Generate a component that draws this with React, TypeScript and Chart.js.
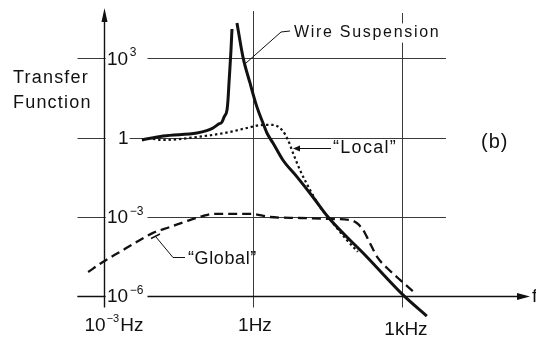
import React, { useEffect, useRef } from "react";
import { Chart, registerables } from "chart.js";

Chart.register(...registerables);

// ---- scale extents (Hz, transfer magnitude) ----
const X_MIN = 3.0e-4;
const X_MAX = 3.78e5;
const Y_MIN = 1.23e-7;
const Y_MAX = 1.05e5;

// ---- Wire suspension (solid), split at the resonance peak ----
const wireLowFreq = [0.0058, 0.0155, 0.0746, 0.117, 0.157, 0.2, 0.238, 0.264, 0.3, 0.314, 0.329, 0.361, 0.378];
const wireLowGain = [0.81, 1.15, 1.49, 1.82, 2.31, 3.19, 3.9, 6.2, 11.1, 26.5, 117, 2090, 12900];
const wireHighFreq = [0.476, 0.629, 0.871, 1.2, 1.59, 1.91, 2.53, 4.0, 7.7, 16.1, 32.4, 197, 1047, 3160];
const wireHighGain = [21900, 1120, 117, 14.5, 3.55, 1.49, 0.624, 0.141, 0.0324, 5.6e-3, 9.8e-4, 3.0e-5, 1.1e-6, 1.74e-7];

// ---- "Local" (dotted) ----
const localFreq = [0.0097, 0.0155, 0.0746, 0.344, 0.758, 1.59, 2.53, 3.84, 5.07, 6.38, 8.83, 14.1, 22.4, 32.4, 77.6, 129];
const localGain = [0.885, 0.81, 1.05, 1.63, 2.31, 3.0, 3.0, 1.94, 0.81, 0.263, 0.0593, 0.0104, 2.34e-3, 9.8e-4, 1.32e-4, 4.7e-5];

// ---- "Global" (dashed) ----
const globalFreq = [4.8e-4, 9.5e-4, 2.1e-3, 4.6e-3, 9.7e-3, 0.0214, 0.047, 0.098, 0.157, 0.476, 0.871, 2.2, 8.8, 35.5, 89, 123, 164, 226, 316, 501, 912, 1820];
const globalGain = [8.1e-6, 1.95e-5, 4.7e-5, 1.12e-4, 2.45e-4, 4.1e-4, 6.9e-4, 1.07e-3, 1.29e-3, 1.29e-3, 1.29e-3, 9.8e-4, 9.0e-4, 8.3e-4, 7.6e-4, 5.8e-4, 3.2e-4, 1.02e-4, 3.0e-5, 1.15e-5, 4.1e-6, 1.29e-6];

// ---- grid / ticks ----
const AXIS_X = 1e-3;
const AXIS_Y = 1e-6;
const yGridValues = [1e3, 1, 1e-3, 1e-6];
const yTickBase = ["10", "1", "10", "10"];
const yTickSup = ["3", "", "\u22123", "\u22126"];
const xGridValues = [1, 1e3];
const xTickValues = [1e-3, 1, 1e3];
const xTickBase = ["10", "1Hz", "1kHz"];
const xTickSup = ["\u22123", "", ""];
const xTickSuffix = ["Hz", "", ""];

// label styling offsets (pixels)
const xLabelShift = [10, 2, 4];
const xLabelDrop = [34, 34, 38];

const FONT = '"Liberation Sans", Arial, Helvetica, sans-serif';
const f = (px: number) => `${px}px ${FONT}`;
const INK = "#111";

function line(ctx: CanvasRenderingContext2D, pts: number[][]) {
  ctx.beginPath();
  ctx.moveTo(pts[0][0], pts[0][1]);
  for (let i = 1; i < pts.length; i++) ctx.lineTo(pts[i][0], pts[i][1]);
  ctx.stroke();
}

function tri(ctx: CanvasRenderingContext2D, pts: number[][]) {
  ctx.beginPath();
  ctx.moveTo(pts[0][0], pts[0][1]);
  ctx.lineTo(pts[1][0], pts[1][1]);
  ctx.lineTo(pts[2][0], pts[2][1]);
  ctx.closePath();
  ctx.fill();
}

function spacedText(ctx: CanvasRenderingContext2D, text: string, x: number, y: number, size: number, spacing: number, bg?: boolean) {
  ctx.font = f(size);
  (ctx as any).letterSpacing = `${spacing}px`;
  if (bg) {
    const w = ctx.measureText(text).width;
    ctx.fillStyle = "#fff";
    ctx.fillRect(x - 2, y - size * 0.6, w + 4, size * 1.2);
  }
  ctx.fillStyle = INK;
  ctx.fillText(text, x, y);
  (ctx as any).letterSpacing = "0px";
}

const decor = {
  id: "decor",
  beforeDraw(chart: any) {
    const ctx = chart.ctx as CanvasRenderingContext2D;
    ctx.save();
    ctx.fillStyle = "#fff";
    ctx.fillRect(0, 0, chart.width, chart.height);
    ctx.restore();
  },
  beforeDatasetsDraw(chart: any) {
    const ctx = chart.ctx as CanvasRenderingContext2D;
    const x = chart.scales.x;
    const y = chart.scales.y;
    const ax = Math.round(x.getPixelForValue(AXIS_X)) + 0.5;
    const ay = Math.round(y.getPixelForValue(AXIS_Y)) + 0.5;
    const kx = x.getPixelForValue(1e3);
    ctx.save();

    // horizontal grid lines
    ctx.strokeStyle = "#3a3a3a";
    ctx.lineWidth = 1;
    yGridValues.forEach((v) => {
      const py = Math.round(y.getPixelForValue(v)) + 0.5;
      const right = v === AXIS_Y ? x.right - 12 : kx + 44;
      line(ctx, [[ax - 27, py], [right, py]]);
    });
    // vertical grid lines
    xGridValues.forEach((v, i) => {
      const px = Math.round(x.getPixelForValue(v)) + 0.5;
      line(ctx, [[px, i === 0 ? y.top + 6 : y.top + 8], [px, ay + 11]]);
    });

    // axes
    ctx.strokeStyle = INK;
    ctx.fillStyle = INK;
    ctx.lineWidth = 1.4;
    line(ctx, [[ax, ay + 11], [ax, y.top + 12]]);
    tri(ctx, [[ax, y.top + 3], [ax - 3, y.top + 17], [ax + 3, y.top + 17]]);
    line(ctx, [[ax - 27, ay], [x.right - 10, ay]]);
    tri(ctx, [[x.right, ay], [x.right - 13, ay - 3.5], [x.right - 13, ay + 3.5]]);

    // y tick labels (inside, right of the axis)
    ctx.textBaseline = "middle";
    ctx.textAlign = "left";
    yGridValues.forEach((v, i) => {
      const py = y.getPixelForValue(v);
      const base = yTickBase[i];
      const sup = yTickSup[i];
      ctx.font = f(19);
      const bx = sup ? ax + 2.5 : ax + 13.5;
      const bw = ctx.measureText(base).width;
      const gapEnd = sup ? ax + 43 : bx + bw + 1;
      ctx.fillStyle = "#fff";
      ctx.fillRect(ax + 1.2, py - 3, gapEnd - ax - 1.2, 6);
      ctx.fillStyle = INK;
      ctx.fillText(base, bx, py + 1);
      if (sup) {
        ctx.font = f(12);
        ctx.fillText(sup, bx + bw + 1.5, py - 5.5);
      }
    });

    // x tick labels
    ctx.textBaseline = "alphabetic";
    xTickValues.forEach((v, i) => {
      const px = x.getPixelForValue(v);
      ctx.font = f(19);
      const bw = ctx.measureText(xTickBase[i]).width;
      const tw = ctx.measureText(xTickSuffix[i]).width;
      ctx.font = f(11);
      const sw = xTickSup[i] ? ctx.measureText(xTickSup[i]).width + 2 : 0;
      const total = bw + sw + tw;
      const left = px + xLabelShift[i] - total / 2;
      const base = ay + xLabelDrop[i];
      ctx.fillStyle = INK;
      ctx.font = f(19);
      ctx.fillText(xTickBase[i], left, base);
      if (xTickSup[i]) {
        ctx.font = f(11);
        ctx.fillText(xTickSup[i], left + bw + 1, base - 9);
      }
      ctx.font = f(19);
      ctx.fillText(xTickSuffix[i], left + bw + sw, base);
    });

    // axis titles / annotations
    ctx.textBaseline = "alphabetic";
    spacedText(ctx, "Transfer", 13, 83, 18, 1.2);
    spacedText(ctx, "Function", 13, 108, 18, 1.2);
    ctx.textBaseline = "middle";
    spacedText(ctx, "f", 532, ay, 19, 0);
    spacedText(ctx, "(b)", 481, 142, 20, 1);
    spacedText(ctx, "Wire Suspension", 294, 33, 16, 1.7, true);
    spacedText(ctx, "\u201cLocal\u201d", 333, 148, 18, 1.3);
    spacedText(ctx, "\u201cGlobal\u201d", 188, 259, 18, 0.6);

    // leaders
    ctx.strokeStyle = INK;
    ctx.fillStyle = INK;
    ctx.lineWidth = 1;
    line(ctx, [[246, 63], [281, 32], [290, 31]]);
    line(ctx, [[331, 148.5], [298, 148.5]]);
    tri(ctx, [[293, 148.5], [300, 145.5], [300, 151.5]]);
    line(ctx, [[185, 257.5], [173, 257.5], [156, 237]]);
    ctx.lineWidth = 1.5;
    line(ctx, [[151, 238.5], [160, 234]]);

    ctx.restore();
  },
};

const pts = (xs: number[], ys: number[]) => xs.map((v, i) => ({ x: v, y: ys[i] }));

export default function App() {
  const ref = useRef<HTMLCanvasElement | null>(null);
  useEffect(() => {
    if (!ref.current) return;
    const common = {
      pointRadius: 0,
      fill: false,
      borderColor: INK,
      cubicInterpolationMode: "monotone" as const,
    };
    const chart = new Chart(ref.current, {
      type: "line",
      data: {
        datasets: [
          { ...common, label: "Wire Suspension", data: pts(wireLowFreq, wireLowGain), borderWidth: 3 },
          { ...common, label: "Wire Suspension (above resonance)", data: pts(wireHighFreq, wireHighGain), borderWidth: 3 },
          { ...common, label: "Local", data: pts(localFreq, localGain), borderWidth: 2.2, borderDash: [2.4, 2.8] },
          { ...common, label: "Global", data: pts(globalFreq, globalGain), borderWidth: 2.3, borderDash: [9, 5] },
        ],
      },
      options: {
        responsive: false,
        animation: false,
        devicePixelRatio: 1,
        layout: { padding: { left: 78, right: 6, top: 5, bottom: 20 } },
        plugins: { legend: { display: false }, tooltip: { enabled: false } },
        scales: {
          x: { type: "logarithmic", display: false, min: X_MIN, max: X_MAX, bounds: "data" },
          y: { type: "logarithmic", display: false, min: Y_MIN, max: Y_MAX, bounds: "data" },
        },
      },
      plugins: [decor],
    } as any);
    return () => chart.destroy();
  }, []);
  return (
    <div style={{ position: "fixed", left: 0, top: 0, width: 536, height: 340, background: "#fff" }}>
      <canvas ref={ref} width={536} height={340} style={{ display: "block", width: 536, height: 340 }} />
    </div>
  );
}
